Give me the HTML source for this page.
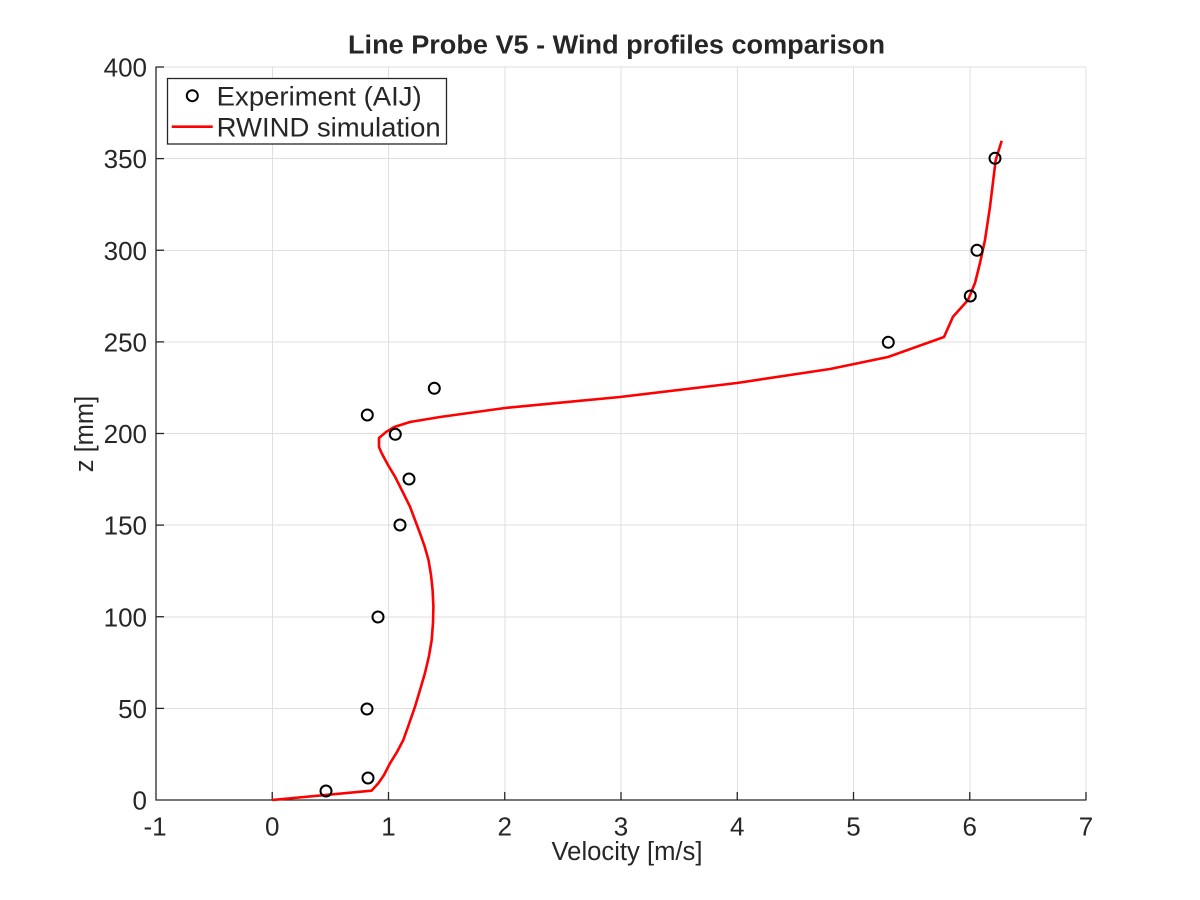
<!DOCTYPE html>
<html>
<head>
<meta charset="utf-8">
<style>
  html,body{margin:0;padding:0;background:#fff;}
  svg{display:block;}
  text{font-family:"Liberation Sans",Arial,sans-serif;fill:#262626;}
</style>
</head>
<body>
<svg width="1200" height="900" viewBox="0 0 1200 900" xmlns="http://www.w3.org/2000/svg">
  <rect x="0" y="0" width="1200" height="900" fill="#ffffff"/>
  <!-- grid -->
  <g stroke="#dfdfdf" stroke-width="1" shape-rendering="crispEdges">
    <line x1="272.25" y1="67" x2="272.25" y2="800"/>
    <line x1="388.5" y1="67" x2="388.5" y2="800"/>
    <line x1="504.75" y1="67" x2="504.75" y2="800"/>
    <line x1="621" y1="67" x2="621" y2="800"/>
    <line x1="737.25" y1="67" x2="737.25" y2="800"/>
    <line x1="853.5" y1="67" x2="853.5" y2="800"/>
    <line x1="969.75" y1="67" x2="969.75" y2="800"/>
    <line x1="1086" y1="67" x2="1086" y2="800"/>
    <line x1="156" y1="708.4" x2="1086" y2="708.4"/>
    <line x1="156" y1="616.75" x2="1086" y2="616.75"/>
    <line x1="156" y1="525.1" x2="1086" y2="525.1"/>
    <line x1="156" y1="433.5" x2="1086" y2="433.5"/>
    <line x1="156" y1="341.9" x2="1086" y2="341.9"/>
    <line x1="156" y1="250.25" x2="1086" y2="250.25"/>
    <line x1="156" y1="158.6" x2="1086" y2="158.6"/>
    <line x1="156" y1="67" x2="1086" y2="67"/>
  </g>
  <!-- axes -->
  <g stroke="#262626" stroke-width="1.3" fill="none">
    <line x1="156" y1="66.5" x2="156" y2="800.5"/>
    <line x1="155.5" y1="800" x2="1086.5" y2="800"/>
    <line x1="272.25" y1="800" x2="272.25" y2="792"/>
    <line x1="388.5" y1="800" x2="388.5" y2="792"/>
    <line x1="504.75" y1="800" x2="504.75" y2="792"/>
    <line x1="621" y1="800" x2="621" y2="792"/>
    <line x1="737.25" y1="800" x2="737.25" y2="792"/>
    <line x1="853.5" y1="800" x2="853.5" y2="792"/>
    <line x1="969.75" y1="800" x2="969.75" y2="792"/>
    <line x1="1086" y1="800" x2="1086" y2="792"/>
    <line x1="156" y1="708.4" x2="164" y2="708.4"/>
    <line x1="156" y1="616.75" x2="164" y2="616.75"/>
    <line x1="156" y1="525.1" x2="164" y2="525.1"/>
    <line x1="156" y1="433.5" x2="164" y2="433.5"/>
    <line x1="156" y1="341.9" x2="164" y2="341.9"/>
    <line x1="156" y1="250.25" x2="164" y2="250.25"/>
    <line x1="156" y1="158.6" x2="164" y2="158.6"/>
    <line x1="156" y1="67" x2="164" y2="67"/>
  </g>
  <!-- x tick labels -->
  <g font-size="26" text-anchor="middle">
    <text x="155" y="835.5">-1</text>
    <text x="272.25" y="835.5">0</text>
    <text x="388.5" y="835.5">1</text>
    <text x="504.75" y="835.5">2</text>
    <text x="621" y="835.5">3</text>
    <text x="737.25" y="835.5">4</text>
    <text x="853.5" y="835.5">5</text>
    <text x="969.75" y="835.5">6</text>
    <text x="1086" y="835.5">7</text>
  </g>
  <!-- y tick labels -->
  <g font-size="26" text-anchor="end">
    <text x="147" y="809.5">0</text>
    <text x="147" y="717.9">50</text>
    <text x="147" y="626.25">100</text>
    <text x="147" y="534.6">150</text>
    <text x="147" y="443">200</text>
    <text x="147" y="351.4">250</text>
    <text x="147" y="259.75">300</text>
    <text x="147" y="168.1">350</text>
    <text x="147" y="76.5">400</text>
  </g>
  <!-- labels -->
  <text x="627" y="860" font-size="25.5" text-anchor="middle" textLength="151" lengthAdjust="spacingAndGlyphs">Velocity [m/s]</text>
  <text transform="translate(93,434) rotate(-90)" font-size="25.5" text-anchor="middle">z [mm]</text>
  <text x="616.5" y="53.5" font-size="25.5" font-weight="bold" text-anchor="middle" textLength="537" lengthAdjust="spacingAndGlyphs">Line Probe V5 - Wind profiles comparison</text>
  <!-- red line -->
  <polyline fill="none" stroke="#ff0000" stroke-width="2.6" stroke-linejoin="round" stroke-linecap="butt"
    points="272,800 371.5,790.7 378.3,783.3 384,775 390,763.3 397,752 403.3,740 409,724 415,706.7 420,690 425,673 429,656 431.7,640 433,623 433.4,606.7 432.6,590 431,575 428.5,560 424.5,546 420,533.3 415,520 410,506.7 402.5,491.5 395,476.7 388,465 381.7,453.3 379,447 379,438 386,432 394.3,427 410,422 440,417 505,408 560,402.7 620,397 737,383 830,369 888,357 944,337 953,316.7 968,300 975,283 980,263 985,240 990,206.7 995.7,160 1001.7,140.7"/>
  <!-- experiment markers -->
  <g fill="none" stroke="#000" stroke-width="2">
    <circle cx="326" cy="791" r="5.5"/>
    <circle cx="368" cy="778" r="5.5"/>
    <circle cx="367" cy="709" r="5.5"/>
    <circle cx="378" cy="617" r="5.5"/>
    <circle cx="400" cy="525" r="5.5"/>
    <circle cx="409" cy="479" r="5.5"/>
    <circle cx="395.3" cy="434.3" r="5.5"/>
    <circle cx="367.3" cy="415" r="5.5"/>
    <circle cx="434.3" cy="388.3" r="5.5"/>
    <circle cx="888.3" cy="342.3" r="5.5"/>
    <circle cx="970.3" cy="296" r="5.5"/>
    <circle cx="977" cy="250.3" r="5.5"/>
    <circle cx="995" cy="158.3" r="5.5"/>
  </g>
  <!-- legend -->
  <rect x="167.5" y="78.5" width="279" height="65.5" fill="#fff" stroke="#262626" stroke-width="1.3"/>
  <circle cx="192.3" cy="95.7" r="5.5" fill="none" stroke="#000" stroke-width="2"/>
  <line x1="171.7" y1="126.7" x2="212.7" y2="126.7" stroke="#ff0000" stroke-width="2.6"/>
  <text x="216.7" y="105.7" font-size="26.5" textLength="205" lengthAdjust="spacingAndGlyphs">Experiment (AIJ)</text>
  <text x="216.7" y="136.7" font-size="26.5" textLength="224" lengthAdjust="spacingAndGlyphs">RWIND simulation</text>
</svg>
</body>
</html>
